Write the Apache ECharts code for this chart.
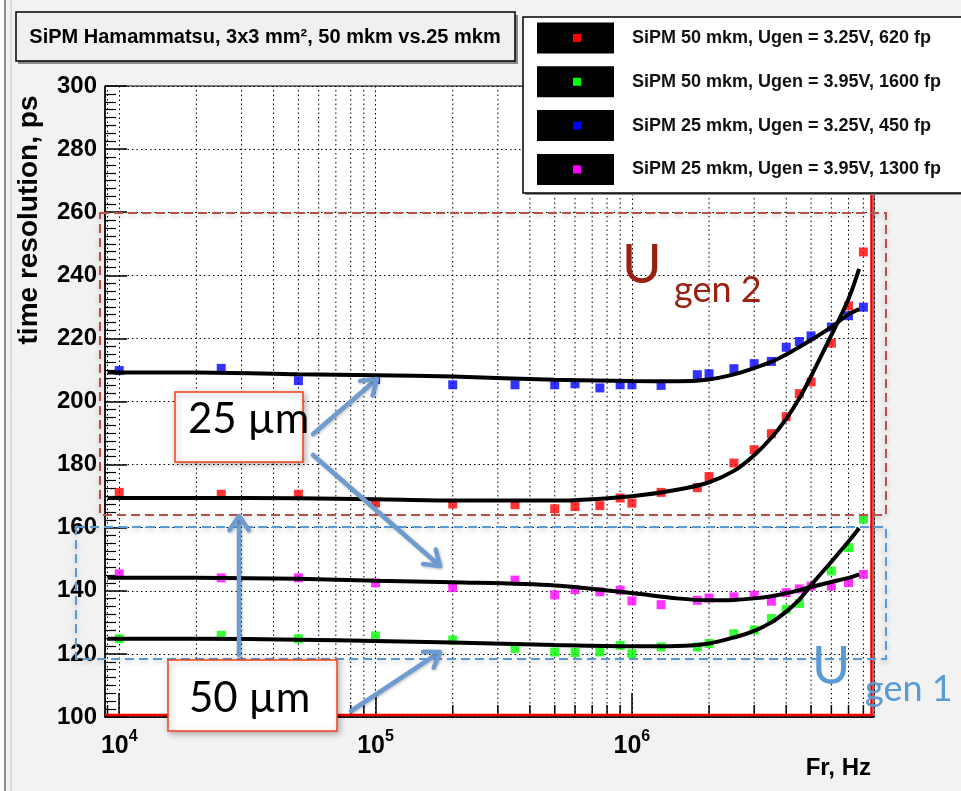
<!DOCTYPE html>
<html>
<head>
<meta charset="utf-8">
<title>SiPM time resolution</title>
<script src="https://cdn.jsdelivr.net/npm/echarts@6/dist/echarts.min.js"></script>
<style>
  html, body { margin: 0; padding: 0; background: #f2f2f2; }
  #chart { width: 961px; height: 791px; }
</style>
</head>
<body>
<div id="chart"></div>
<script>
// Measured points: frequency (Hz) and time resolution (ps)
const freqAll = [1e4, 2.5e4, 5e4, 1e5, 2e5, 3.5e5, 5e5, 6e5, 7.5e5, 9e5, 1e6, 1.3e6, 1.8e6, 2e6, 2.5e6, 3e6, 3.5e6, 4e6, 4.5e6, 5e6, 6e6, 7e6, 8e6];
const freqGreen = [1e4, 2.5e4, 5e4, 1e5, 2e5, 3.5e5, 5e5, 6e5, 7.5e5, 9e5, 1e6, 1.3e6, 1.8e6, 2e6, 2.5e6, 3e6, 3.5e6, 4e6, 4.5e6, 6e6, 7e6, 8e6];

const red50_325 = [171.2, 170.6, 170.6, 167.8, 167.5, 167.3, 166.0, 166.7, 167.0, 169.4, 167.8, 171.2, 172.7, 176.2, 180.5, 184.7, 189.8, 195.2, 202.5, 206.2, 218.5, 230.3, 247.4];
const green50_395 = [124.8, 125.9, 124.8, 125.7, 124.4, 121.7, 120.6, 120.4, 120.6, 122.7, 120.1, 122.2, 122.2, 123.3, 126.4, 127.6, 131.2, 134.1, 136.0, 146.3, 153.7, 162.7];
const blue25_325 = [209.8, 210.5, 206.6, 207.0, 205.3, 205.3, 205.3, 205.6, 204.3, 205.3, 205.3, 205.1, 208.5, 208.8, 210.4, 212.0, 212.7, 217.2, 219.0, 220.8, 223.6, 227.2, 229.9];
const magenta25_395 = [145.4, 144.1, 144.1, 142.5, 141.0, 143.4, 138.7, 140.4, 139.7, 140.2, 136.8, 135.6, 137.0, 137.7, 138.1, 138.6, 136.7, 139.4, 140.6, 141.5, 141.5, 142.6, 145.2];

// Fit curves sampled along frequency
const fitFreq = [9e3, 2e4, 5e4, 1e5, 2e5, 5e5, 1e6, 1.5e6, 2e6, 2.5e6, 3e6, 3.5e6, 4e6, 4.5e6, 5e6, 6e6, 7e6, 7.7e6];
const fitRed = [169.4, 169.4, 169.3, 169.0, 168.6, 168.6, 170.0, 172.0, 174.4, 178.0, 183.0, 188.5, 194.5, 201.0, 208.0, 221.0, 232.5, 242.0];
const fitBlue = [209.2, 209.2, 208.6, 208.3, 207.9, 206.9, 206.5, 206.4, 207.0, 208.6, 210.6, 212.6, 214.9, 217.3, 219.5, 223.6, 227.6, 229.3];
const fitGreen = [124.8, 124.8, 124.5, 124.1, 123.6, 122.8, 122.4, 122.5, 123.3, 125.2, 127.3, 130.0, 133.4, 137.2, 141.8, 149.2, 155.6, 159.8];
const fitMagenta = [144.1, 144.1, 143.8, 143.2, 142.7, 141.7, 139.3, 137.6, 137.0, 137.1, 137.6, 138.3, 139.2, 140.2, 141.2, 142.8, 144.1, 145.2];

// Axis ranges and tick values
const xMin = 8800, xMax = 8.8e6;
const yMin = 100, yMax = 300, yStep = 20;
const minorFreqs = [9e3, 2e4, 3e4, 4e4, 5e4, 6e4, 7e4, 8e4, 9e4, 2e5, 3e5, 4e5, 5e5, 6e5, 7e5, 8e5, 9e5, 2e6, 3e6, 4e6, 5e6, 6e6, 7e6, 8e6];

const legendItems = [
  { text: 'SiPM 50 mkm, Ugen = 3.25V, 620 fp', color: '#ff0000' },
  { text: 'SiPM 50 mkm, Ugen = 3.95V, 1600 fp', color: '#00ff00' },
  { text: 'SiPM 25 mkm, Ugen = 3.25V, 450 fp', color: '#0000ff' },
  { text: 'SiPM 25 mkm, Ugen = 3.95V, 1300 fp', color: '#ff00ff' }
];
const titleText = 'SiPM Hamammatsu, 3x3 mm\u00B2, 50 mkm vs.25 mkm';

const FONT = "'Liberation Sans', Arial, Helvetica, sans-serif";
const SLIDE_FONT = "Lato, 'Open Sans', sans-serif";

const pairs = (xs, ys) => xs.map((x, i) => [x, ys[i]]);

function arrow(x1, y1, x2, y2, color) {
  const ang = Math.atan2(y2 - y1, x2 - x1);
  const len = 17, spread = 0.6;
  const a1 = [x2 - len * Math.cos(ang - spread), y2 - len * Math.sin(ang - spread)];
  const a2 = [x2 - len * Math.cos(ang + spread), y2 - len * Math.sin(ang + spread)];
  const style = { stroke: color, lineWidth: 4.5, lineCap: 'round', lineJoin: 'round', fill: null,
                  shadowBlur: 3, shadowColor: 'rgba(0,0,0,0.25)', shadowOffsetX: 1, shadowOffsetY: 1 };
  return [
    { type: 'line', z: 120, shape: { x1, y1, x2: x2 - 2 * Math.cos(ang), y2: y2 - 2 * Math.sin(ang) }, style },
    { type: 'polyline', z: 120, shape: { points: [a1, [x2, y2], a2] }, style }
  ];
}

const chart = echarts.init(document.getElementById('chart'), null, { renderer: 'canvas' });

const graphics = [];
// window border on the far left
graphics.push({ type: 'rect', z: 1, shape: { x: 0, y: 0, width: 5, height: 791 }, style: { fill: '#ffffff' } });
graphics.push({ type: 'line', z: 2, shape: { x1: 5, y1: 0, x2: 5, y2: 791 }, style: { stroke: '#666', lineWidth: 1.5 } });
graphics.push({ type: 'line', z: 2, shape: { x1: 11, y1: 0, x2: 11, y2: 791 }, style: { stroke: '#c8c8c8', lineWidth: 1 } });

// title box
graphics.push({ type: 'rect', z: 100, shape: { x: 18, y: 15, width: 500, height: 49 }, style: { fill: '#8a8a8a' } });
graphics.push({ type: 'rect', z: 101, shape: { x: 16, y: 12, width: 499, height: 49 }, style: { fill: '#f0f0f0', stroke: '#000', lineWidth: 1.5 } });
graphics.push({ type: 'text', z: 102, x: 265, y: 37, style: { text: titleText, font: 'bold 20px ' + FONT, fill: '#000', align: 'center', verticalAlign: 'middle' } });

// legend box
graphics.push({ type: 'rect', z: 100, shape: { x: 525, y: 19, width: 440, height: 176 }, style: { fill: '#8a8a8a' } });
graphics.push({ type: 'rect', z: 101, shape: { x: 523, y: 17, width: 440, height: 176 }, style: { fill: '#ffffff', stroke: '#000', lineWidth: 1.5 } });
legendItems.forEach((it, i) => {
  const cy = 38 + 43.8 * i;
  graphics.push({ type: 'rect', z: 102, shape: { x: 537, y: cy - 15.5, width: 77, height: 31 }, style: { fill: '#000' } });
  graphics.push({ type: 'rect', z: 103, shape: { x: 573, y: cy - 4, width: 8, height: 8 }, style: { fill: it.color } });
  graphics.push({ type: 'text', z: 103, x: 632, y: cy, style: { text: it.text, font: 'bold 18px ' + FONT, fill: '#111', align: 'left', verticalAlign: 'middle' } });
});

// red frame accents on right and bottom edges
graphics.push({ type: 'line', z: 90, shape: { x1: 871.5, y1: 86, x2: 871.5, y2: 716 }, style: { stroke: '#ee0000', lineWidth: 2.5 } });
graphics.push({ type: 'line', z: 90, shape: { x1: 105, y1: 715, x2: 873, y2: 715 }, style: { stroke: '#ee0000', lineWidth: 2.5 } });

// dashed group boxes
graphics.push({ type: 'rect', z: 95, shape: { x: 100, y: 213, width: 786, height: 302 },
  style: { fill: null, stroke: '#b5524c', lineWidth: 2, lineDash: [9, 5], shadowBlur: 5, shadowColor: 'rgba(0,0,0,0.25)', shadowOffsetY: 2 } });
graphics.push({ type: 'rect', z: 95, shape: { x: 76, y: 527, width: 810, height: 132 },
  style: { fill: null, stroke: '#5b9bd5', lineWidth: 2, lineDash: [9, 5], shadowBlur: 5, shadowColor: 'rgba(0,0,0,0.25)', shadowOffsetY: 2 } });

// U gen labels
graphics.push({ type: 'text', z: 110, x: 622, y: 266, style: { text: 'U', font: '54px ' + SLIDE_FONT, fill: '#9b2011', align: 'left', verticalAlign: 'middle' } });
graphics.push({ type: 'text', z: 110, x: 674, y: 290, style: { text: 'gen 2', font: '36px ' + SLIDE_FONT, fill: '#9b2011', align: 'left', verticalAlign: 'middle' } });
graphics.push({ type: 'text', z: 110, x: 812, y: 667, style: { text: 'U', font: '52px ' + SLIDE_FONT, fill: '#5b9bd5', align: 'left', verticalAlign: 'middle' } });
graphics.push({ type: 'text', z: 110, x: 865, y: 689, style: { text: 'gen 1', font: '36px ' + SLIDE_FONT, fill: '#5b9bd5', align: 'left', verticalAlign: 'middle' } });

// pixel size boxes
graphics.push({ type: 'rect', z: 112, shape: { x: 175, y: 392, width: 128, height: 70 },
  style: { fill: '#ffffff', stroke: '#f0401f', lineWidth: 1.5, shadowBlur: 6, shadowColor: 'rgba(0,0,0,0.3)', shadowOffsetX: 2, shadowOffsetY: 2 } });
graphics.push({ type: 'text', z: 113, x: 188, y: 419, style: { text: '25 \u00B5m', font: '42px ' + SLIDE_FONT, fill: '#000', align: 'left', verticalAlign: 'middle' } });
graphics.push({ type: 'rect', z: 112, shape: { x: 168, y: 660, width: 169, height: 71 },
  style: { fill: '#ffffff', stroke: '#f0401f', lineWidth: 1.5, shadowBlur: 6, shadowColor: 'rgba(0,0,0,0.3)', shadowOffsetX: 2, shadowOffsetY: 2 } });
graphics.push({ type: 'text', z: 113, x: 189, y: 698, style: { text: '50 \u00B5m', font: '42px ' + SLIDE_FONT, fill: '#000', align: 'left', verticalAlign: 'middle' } });

// arrows
const ARROW = '#6e9bd0';
graphics.push(...arrow(313, 434, 377, 379, ARROW));
graphics.push(...arrow(313, 455, 440, 566, ARROW));
graphics.push(...arrow(239, 655, 239, 516, ARROW));
graphics.push(...arrow(351, 711, 440, 652, ARROW));

// axis titles
graphics.push({ type: 'text', z: 50, x: 29, y: 220, rotation: Math.PI / 2,
  style: { text: 'time resolution, ps', font: 'bold 28px ' + FONT, fill: '#000', align: 'center', verticalAlign: 'middle' } });
graphics.push({ type: 'text', z: 50, x: 871, y: 768,
  style: { text: 'Fr, Hz', font: 'bold 24px ' + FONT, fill: '#000', align: 'right', verticalAlign: 'middle' } });

const isDecade = v => Math.abs(Math.log10(v) - Math.round(Math.log10(v))) < 1e-6;

const fitLine = values => ({
  type: 'line', showSymbol: false, smooth: 0.3, z: 4,
  lineStyle: { color: '#000', width: 4 }, data: pairs(fitFreq, values)
});

const option = {
  animation: false,
  backgroundColor: '#f2f2f2',
  grid: { left: 105, right: 87, top: 86, bottom: 74, show: true, backgroundColor: '#ffffff', borderColor: '#000', borderWidth: 1 },
  xAxis: {
    type: 'log', logBase: 10, min: xMin, max: xMax,
    axisLine: { show: true, lineStyle: { color: '#000', width: 1.5 } },
    axisTick: { show: true, inside: true, length: 24, lineStyle: { color: '#000', width: 1.5 } },
    minorTick: { show: false },
    splitLine: { show: true, lineStyle: { color: '#000', width: 1, type: [1.5, 3] } },
    axisLabel: {
      margin: 12, showMinLabel: false, showMaxLabel: false,
      formatter: v => isDecade(v) ? '{b|10}{s|' + Math.round(Math.log10(v)) + '}' : '',
      rich: {
        b: { fontSize: 25, fontWeight: 'bold', fontFamily: FONT, color: '#000', lineHeight: 30, verticalAlign: 'bottom' },
        s: { fontSize: 16, fontWeight: 'bold', fontFamily: FONT, color: '#000', lineHeight: 18, verticalAlign: 'top' }
      }
    }
  },
  yAxis: {
    type: 'value', min: yMin, max: yMax, interval: yStep,
    axisLine: { show: true, lineStyle: { color: '#000', width: 1.5 } },
    axisTick: { show: true, inside: true, length: 22, lineStyle: { color: '#000', width: 1.5 } },
    minorTick: { show: true, splitNumber: 8, length: 11, lineStyle: { color: '#000', width: 1.2 } },
    splitLine: { show: true, lineStyle: { color: '#000', width: 1, type: [1.5, 3] } },
    axisLabel: { margin: 8, fontSize: 24, fontWeight: 'bold', fontFamily: FONT, color: '#000' }
  },
  graphic: graphics,
  series: [
    {
      type: 'custom', silent: true, z: 1, clip: true,
      data: minorFreqs.map(f => [f, yMin]),
      renderItem: (params, api) => {
        const f = api.value(0);
        const b = api.coord([f, yMin]);
        const t = api.coord([f, yMax]);
        return { type: 'group', children: [
          { type: 'line', shape: { x1: b[0], y1: b[1], x2: t[0], y2: t[1] }, style: { stroke: '#000', lineWidth: 1, lineDash: [1.5, 3] } },
          { type: 'line', shape: { x1: b[0], y1: b[1], x2: b[0], y2: b[1] - 12 }, style: { stroke: '#000', lineWidth: 1.5 } }
        ] };
      }
    },
    { name: legendItems[0].text, type: 'scatter', symbol: 'rect', symbolSize: 9, z: 3, itemStyle: { color: '#ff0000' }, data: pairs(freqAll, red50_325) },
    { name: legendItems[1].text, type: 'scatter', symbol: 'rect', symbolSize: 9, z: 3, itemStyle: { color: '#00ff00' }, data: pairs(freqGreen, green50_395) },
    { name: legendItems[2].text, type: 'scatter', symbol: 'rect', symbolSize: 9, z: 3, itemStyle: { color: '#0000ff' }, data: pairs(freqAll, blue25_325) },
    { name: legendItems[3].text, type: 'scatter', symbol: 'rect', symbolSize: 9, z: 3, itemStyle: { color: '#ff00ff' }, data: pairs(freqAll, magenta25_395) },
    fitLine(fitRed),
    fitLine(fitGreen),
    fitLine(fitBlue),
    fitLine(fitMagenta)
  ]
};

chart.setOption(option);
</script>
</body>
</html>
